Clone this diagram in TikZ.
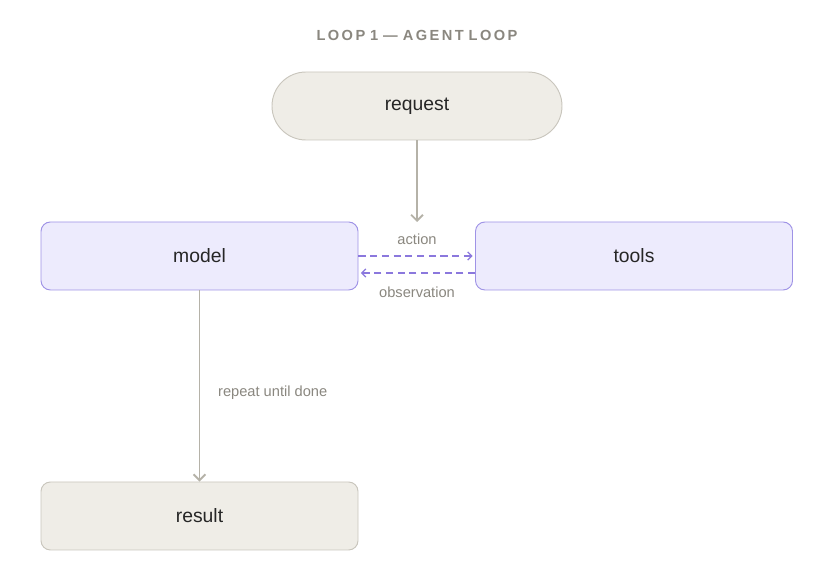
\documentclass[tikz,border=0pt]{standalone}
\usepackage{fontspec}
\setmainfont{Liberation Sans}
\usetikzlibrary{arrows.meta}
\definecolor{boxg}{HTML}{EFEDE7}
\definecolor{edgeg}{HTML}{C9C6BD}
\definecolor{boxp}{HTML}{EDEBFD}
\definecolor{edgep}{HTML}{9F93E6}
\definecolor{arrg}{HTML}{B5B2A8}
\definecolor{txtg}{HTML}{8A877F}
\definecolor{dashp}{HTML}{8B78DD}
\begin{document}
\begin{tikzpicture}[x=0.03cm,y=-0.03cm,
  gbox/.style={draw=edgeg,fill=boxg,line width=0.8pt,inner sep=0pt,font=\fontsize{16.5}{18}\selectfont,text=black!85},
  pbox/.style={draw=edgep,fill=boxp,line width=0.8pt,rounded corners=8pt,inner sep=0pt,minimum width=317*0.03cm,minimum height=68*0.03cm,font=\fontsize{16.5}{18}\selectfont,text=black!85},
  lab/.style={text=txtg,font=\fontsize{12.5}{14}\selectfont},
  garr/.style={draw=arrg,line width=1.6pt,-{Straight Barb[length=5pt,width=10pt]}},
  parr/.style={draw=dashp,line width=1.1pt,dash pattern=on 6pt off 4pt,-{Straight Barb[length=3.5pt,width=7pt]}}]
\useasboundingbox (0,0) rectangle (835,573);
\node[text=txtg,font=\bfseries\fontsize{12.5}{14}\selectfont] (title) at (417,35) {L\,O\,O\,P\,\,1\,\,—\,\,A\,G\,E\,N\,T\,\,L\,O\,O\,P};
\node[gbox,rounded corners=34*0.03cm,minimum width=290*0.03cm,minimum height=68*0.03cm] (req) at (417,106) {request};
\node[pbox] (model) at (199.5,256) {model};
\node[pbox] (tools) at (634,256) {tools};
\node[gbox,rounded corners=8pt,minimum width=317*0.03cm,minimum height=68*0.03cm] (res) at (199.5,516) {result};
\coordinate (reqend) at (417,222);
\draw[garr] (req.south) -- (reqend);
\draw[garr] (model.south) -- (res.north);
\draw[parr] ([yshift=0.0cm]model.east |- 0,256) -- ([xshift=-2pt]tools.west |- 0,256);
\draw[parr] (tools.west |- 0,273) -- ([xshift=2pt]model.east |- 0,273);
\node[lab] (act) at (417,239) {action};
\node[lab] (obs) at (417,292) {observation};
\node[lab,anchor=west] (rep) at (214,393) {repeat until done};
\end{tikzpicture}
\end{document}
